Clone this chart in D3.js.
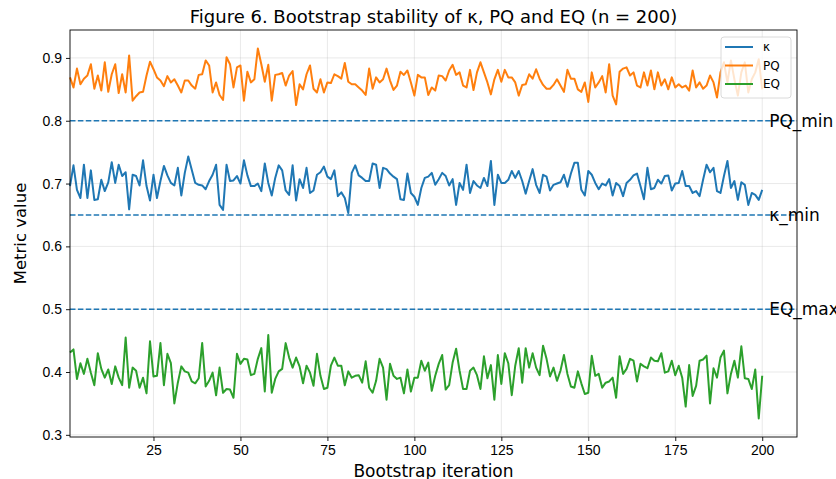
<!DOCTYPE html>
<html>
<head>
<meta charset="utf-8">
<script src="https://d3js.org/d3.v7.min.js"></script>
<style>
    body { margin: 0; background: white; }
    svg { font-family: "DejaVu Sans", sans-serif; }
    .axis path, .axis line { stroke: black; stroke-width: 0.9px; }
    .axis text { font-size: 14px; fill: black; }
    .grid line { stroke: #b0b0b0; stroke-opacity: 0.35; stroke-width: 0.8px; }
    .series { fill: none; stroke-width: 2px; stroke-linejoin: round; }
</style>
</head>
<body>
<script>
// iteration numbers 1..200
const iterations = d3.range(1, 201);

const kappa = [
    0.696,0.729,0.690,0.677,0.730,0.677,0.721,0.674,0.675,0.706,
    0.688,0.702,0.734,0.701,0.730,0.712,0.718,0.659,0.714,0.712,
    0.697,0.737,0.696,0.673,0.714,0.677,0.704,0.728,0.713,0.701,
    0.697,0.725,0.681,0.717,0.743,0.722,0.701,0.698,0.697,0.691,
    0.704,0.714,0.730,0.666,0.658,0.730,0.704,0.705,0.712,0.700,
    0.737,0.713,0.696,0.696,0.700,0.688,0.732,0.701,0.681,0.709,
    0.729,0.721,0.689,0.682,0.729,0.673,0.707,0.693,0.725,0.685,
    0.689,0.714,0.718,0.727,0.711,0.707,0.721,0.680,0.686,0.677,
    0.653,0.717,0.729,0.713,0.709,0.704,0.704,0.732,0.730,0.693,
    0.725,0.723,0.716,0.711,0.707,0.675,0.674,0.716,0.685,0.679,
    0.666,0.693,0.709,0.711,0.717,0.698,0.707,0.717,0.712,0.697,
    0.707,0.666,0.701,0.690,0.730,0.685,0.704,0.697,0.693,0.709,
    0.696,0.736,0.666,0.714,0.701,0.701,0.706,0.720,0.709,0.720,
    0.704,0.684,0.704,0.723,0.698,0.685,0.714,0.711,0.689,0.698,
    0.700,0.702,0.714,0.695,0.716,0.733,0.733,0.690,0.681,0.720,
    0.714,0.701,0.691,0.700,0.697,0.707,0.681,0.701,0.696,0.680,
    0.701,0.706,0.713,0.716,0.696,0.675,0.725,0.691,0.693,0.706,
    0.700,0.712,0.713,0.689,0.700,0.701,0.720,0.696,0.696,0.685,
    0.688,0.680,0.706,0.730,0.718,0.725,0.688,0.685,0.712,0.736,
    0.693,0.704,0.674,0.702,0.698,0.666,0.685,0.682,0.674,0.690
];

const pq = [
    0.869,0.853,0.883,0.858,0.867,0.872,0.890,0.851,0.872,0.848,
    0.893,0.846,0.874,0.890,0.844,0.874,0.845,0.904,0.832,0.839,
    0.845,0.846,0.872,0.894,0.882,0.869,0.864,0.855,0.871,0.861,
    0.866,0.856,0.845,0.864,0.864,0.856,0.851,0.873,0.874,0.896,
    0.888,0.845,0.861,0.841,0.833,0.901,0.890,0.853,0.885,0.888,
    0.832,0.878,0.861,0.866,0.915,0.890,0.862,0.889,0.832,0.873,
    0.874,0.876,0.856,0.872,0.879,0.825,0.858,0.850,0.874,0.888,
    0.851,0.845,0.866,0.845,0.861,0.860,0.874,0.871,0.867,0.892,
    0.862,0.858,0.858,0.853,0.848,0.841,0.883,0.851,0.869,0.861,
    0.866,0.883,0.864,0.849,0.856,0.878,0.873,0.880,0.861,0.840,
    0.873,0.869,0.869,0.841,0.853,0.848,0.872,0.871,0.864,0.880,
    0.889,0.873,0.877,0.856,0.853,0.881,0.849,0.877,0.893,0.877,
    0.861,0.842,0.866,0.881,0.862,0.881,0.869,0.869,0.861,0.840,
    0.857,0.858,0.874,0.867,0.882,0.867,0.857,0.851,0.851,0.857,
    0.866,0.856,0.846,0.881,0.867,0.867,0.850,0.846,0.861,0.830,
    0.877,0.853,0.861,0.871,0.845,0.890,0.840,0.826,0.878,0.883,
    0.885,0.872,0.877,0.856,0.853,0.877,0.856,0.880,0.850,0.877,
    0.856,0.866,0.850,0.869,0.853,0.858,0.853,0.856,0.848,0.880,
    0.853,0.861,0.851,0.856,0.872,0.861,0.837,0.877,0.893,0.861,
    0.896,0.866,0.840,0.877,0.893,0.845,0.866,0.877,0.898,0.850
];

const eq = [
    0.431,0.436,0.389,0.414,0.397,0.421,0.399,0.379,0.430,0.405,
    0.391,0.404,0.381,0.409,0.391,0.379,0.455,0.375,0.407,0.402,
    0.375,0.391,0.366,0.449,0.393,0.394,0.446,0.379,0.429,0.414,
    0.350,0.383,0.409,0.401,0.399,0.385,0.382,0.390,0.446,0.377,
    0.386,0.399,0.363,0.407,0.367,0.373,0.372,0.359,0.429,0.413,
    0.421,0.420,0.395,0.397,0.421,0.438,0.369,0.459,0.367,0.389,
    0.401,0.405,0.446,0.423,0.407,0.423,0.409,0.382,0.410,0.399,
    0.378,0.429,0.394,0.373,0.375,0.410,0.423,0.410,0.410,0.379,
    0.401,0.391,0.394,0.395,0.383,0.417,0.375,0.367,0.386,0.421,
    0.407,0.356,0.413,0.394,0.389,0.391,0.366,0.404,0.369,0.391,
    0.391,0.418,0.402,0.415,0.370,0.394,0.413,0.427,0.372,0.379,
    0.415,0.437,0.402,0.373,0.373,0.402,0.407,0.395,0.373,0.425,
    0.390,0.411,0.356,0.427,0.381,0.430,0.414,0.363,0.410,0.438,
    0.383,0.438,0.407,0.430,0.407,0.395,0.442,0.421,0.393,0.407,
    0.386,0.402,0.427,0.397,0.377,0.375,0.401,0.382,0.365,0.367,
    0.426,0.394,0.397,0.375,0.383,0.385,0.391,0.359,0.425,0.397,
    0.405,0.421,0.418,0.385,0.413,0.409,0.406,0.423,0.418,0.417,
    0.430,0.399,0.401,0.418,0.395,0.410,0.391,0.345,0.411,0.362,
    0.378,0.418,0.420,0.426,0.350,0.406,0.391,0.423,0.434,0.366,
    0.397,0.418,0.391,0.441,0.390,0.389,0.373,0.404,0.326,0.394
];

const seriesNames = ["κ", "PQ", "EQ"];
const seriesColors = ["#1f77b4", "#ff7f0e", "#2ca02c"];

const thresholdValues = [0.8, 0.65, 0.5];
const thresholdLabels = ["PQ_min", "κ_min", "EQ_max"];

const xTicks = [25, 50, 75, 100, 125, 150, 175, 200];
const yTicks = [0.3, 0.4, 0.5, 0.6, 0.7, 0.8, 0.9];

const width = 836, height = 479;
const margin = {top: 30, right: 39, bottom: 42, left: 70};

let svg = d3.select("body").append("svg")
    .attr("width", width)
    .attr("height", height);

let x_scale = d3.scaleLinear()
    .domain([1, 210])
    .range([margin.left, width - margin.right]);

// matplotlib style 5% padding around the data
let all = kappa.concat(pq, eq);
let lo = d3.min(all), hi = d3.max(all);
let pad = (hi - lo) * 0.05;
let y_scale = d3.scaleLinear()
    .domain([lo - pad, hi + pad])
    .range([height - margin.bottom, margin.top]);

let pLeft = margin.left, pRight = width - margin.right;
let pTop = margin.top, pBottom = height - margin.bottom;

// grid
svg.append("g").attr("class", "grid")
    .selectAll("line").data(xTicks).join("line")
    .attr("x1", d => x_scale(d)).attr("x2", d => x_scale(d))
    .attr("y1", pTop).attr("y2", pBottom);
svg.append("g").attr("class", "grid")
    .selectAll("line").data(yTicks).join("line")
    .attr("x1", pLeft).attr("x2", pRight)
    .attr("y1", d => y_scale(d)).attr("y2", d => y_scale(d));

// threshold lines
svg.append("g")
    .selectAll("line").data(thresholdValues).join("line")
    .attr("x1", pLeft).attr("x2", pRight)
    .attr("y1", d => y_scale(d)).attr("y2", d => y_scale(d))
    .attr("stroke", "#1f77b4")
    .attr("stroke-width", 1.5)
    .attr("stroke-dasharray", "5.5,2.4");

// series
let line = d3.line()
    .x((d, i) => x_scale(iterations[i]))
    .y(d => y_scale(d));

[kappa, pq, eq].forEach((s, k) => {
    svg.append("path")
        .attr("class", "series")
        .attr("d", line(s))
        .attr("stroke", seriesColors[k]);
});

// threshold labels
svg.append("g")
    .selectAll("text").data(thresholdValues).join("text")
    .attr("x", x_scale(202))
    .attr("y", d => y_scale(d))
    .attr("dy", "0.35em")
    .attr("font-size", 17)
    .text((d, i) => thresholdLabels[i]);

// axes
let x_axis = d3.axisBottom(x_scale).tickValues(xTicks).tickSize(4).tickPadding(4);
svg.append("g")
    .attr("class", "x axis")
    .attr("transform", "translate(0," + pBottom + ")")
    .call(x_axis)
    .call(g => g.select(".domain").remove());

let y_axis = d3.axisLeft(y_scale).tickValues(yTicks).tickSize(4).tickPadding(4)
    .tickFormat(d3.format(".1f"));
svg.append("g")
    .attr("class", "y axis")
    .attr("transform", "translate(" + pLeft + ",0)")
    .call(y_axis)
    .call(g => g.select(".domain").remove());

// frame
svg.append("rect")
    .attr("x", pLeft).attr("y", pTop)
    .attr("width", pRight - pLeft).attr("height", pBottom - pTop)
    .attr("fill", "none")
    .attr("stroke", "black")
    .attr("stroke-width", 0.9);

// legend
let lg = svg.append("g").attr("transform", "translate(" + (pRight - 76) + "," + (pTop + 7) + ")");
lg.append("rect")
    .attr("width", 70).attr("height", 61)
    .attr("rx", 3)
    .attr("fill", "white").attr("fill-opacity", 0.8)
    .attr("stroke", "#d0d0d0").attr("stroke-width", 0.8);
seriesNames.forEach((n, i) => {
    let yy = 10 + i * 18.5;
    lg.append("line")
        .attr("x1", 4).attr("x2", 32)
        .attr("y1", yy).attr("y2", yy)
        .attr("stroke", seriesColors[i])
        .attr("stroke-width", 2);
    lg.append("text")
        .attr("x", 42).attr("y", yy)
        .attr("dy", "0.35em")
        .attr("font-size", 12)
        .text(n);
});

// titles
svg.append("text")
    .attr("x", (pLeft + pRight) / 2)
    .attr("y", 17)
    .attr("dy", "0.35em")
    .attr("text-anchor", "middle")
    .attr("font-size", 18)
    .text("Figure 6. Bootstrap stability of κ, PQ and EQ (n = 200)");

svg.append("text")
    .attr("x", (pLeft + pRight) / 2)
    .attr("y", 471)
    .attr("dy", "0.35em")
    .attr("text-anchor", "middle")
    .attr("font-size", 17)
    .text("Bootstrap iteration");

svg.append("text")
    .attr("transform", "translate(20," + ((pTop + pBottom) / 2) + ") rotate(-90)")
    .attr("dy", "0.35em")
    .attr("text-anchor", "middle")
    .attr("font-size", 16.5)
    .text("Metric value");
</script>
</body>
</html>
